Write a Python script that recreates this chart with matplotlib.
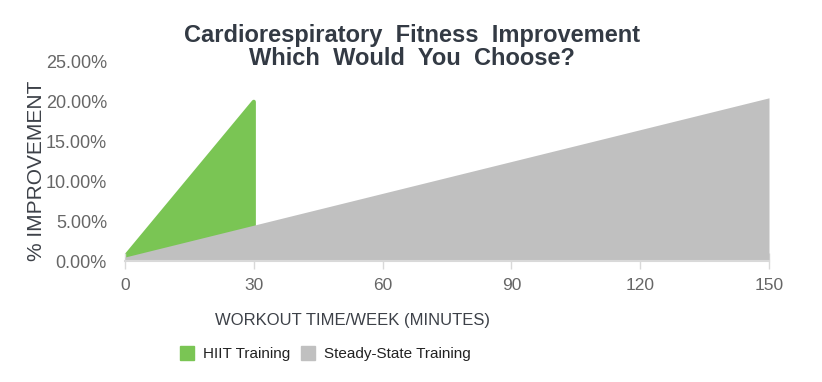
import matplotlib
matplotlib.use("Agg")
import matplotlib.pyplot as plt
from matplotlib.lines import Line2D

REG = "Liberation Sans"

# Data
hiit_x = [0, 30]
hiit_y = [0.5, 20.0]
steady_x = [0, 150]
steady_y = [0.5, 20.5]
x_ticks = [0, 30, 60, 90, 120, 150]
y_ticks = [0, 5, 10, 15, 20, 25]
series_names = ["HIIT Training", "Steady-State Training"]
title_lines = ["Cardiorespiratory  Fitness  Improvement", "Which  Would  You  Choose?"]

GREEN = "#7ac554"
GREY = "#c0c0c0"

fig = plt.figure(figsize=(8.22, 3.82), dpi=100)
W, H = 822, 382
ax = fig.add_axes([125 / W, 1 - 261 / H, (769 - 125) / W, (261 - 62) / H])

# HIIT area (polygon down to the baseline at its last x), drawn below grey
px = hiit_x + [hiit_x[-1], hiit_x[0]]
py = hiit_y + [0, 0]
ax.fill(px, py, color=GREEN, lw=3.0, edgecolor=GREEN, joinstyle="round", zorder=1)
ax.fill_between(steady_x, 0, steady_y, color=GREY, lw=0, zorder=2)

ax.set_xlim(0, 150)
ax.set_ylim(0, 25)
ax.set_xticks(x_ticks)
ax.set_yticks(y_ticks)
ax.set_yticklabels([f"{v:.2f}%" for v in y_ticks])

for s in ["top", "right", "left"]:
    ax.spines[s].set_visible(False)
ax.spines["bottom"].set_color("#d9d9d9")
ax.spines["bottom"].set_linewidth(1.5)
ax.spines["bottom"].set_zorder(3)

ax.tick_params(axis="y", length=0, pad=13, labelcolor="#666666")
ax.tick_params(axis="x", direction="inout", length=11, width=1, color="#d9d9d9",
               pad=7, labelcolor="#666666")
for lab in ax.get_yticklabels():
    lab.set_fontfamily(REG)
    lab.set_fontsize(13)
for lab in ax.get_xticklabels():
    lab.set_fontfamily(REG)
    lab.set_fontsize(12.5)

fig.text(412 / W, 1 - 47 / H, "\n".join(title_lines), ha="center", va="center",
         fontsize=17, fontweight="bold", family=REG, color="#333a44", linespacing=1.05)
fig.text(352 / W, 1 - 320 / H, "WORKOUT TIME/WEEK (MINUTES)", ha="center", va="center",
         fontsize=12.0, family=REG, color="#3d4148")
fig.text(37 / W, 1 - 171 / H, "% IMPROVEMENT", ha="center", va="center", rotation=90,
         fontsize=15, family=REG, color="#3d4148")

handles = [Line2D([], [], ls="none", marker="s", markersize=10, markerfacecolor=c,
                  markeredgecolor=c) for c in (GREEN, GREY)]
leg = fig.legend(handles, series_names, loc="center", bbox_to_anchor=(325 / W, 1 - 354 / H),
                 ncol=2, frameon=False, handlelength=1.0, handletextpad=0.5, columnspacing=0.7,
                 prop={"family": REG, "size": 11})
for t in leg.get_texts():
    t.set_color("#222222")

fig.savefig("out.png", dpi=100)
